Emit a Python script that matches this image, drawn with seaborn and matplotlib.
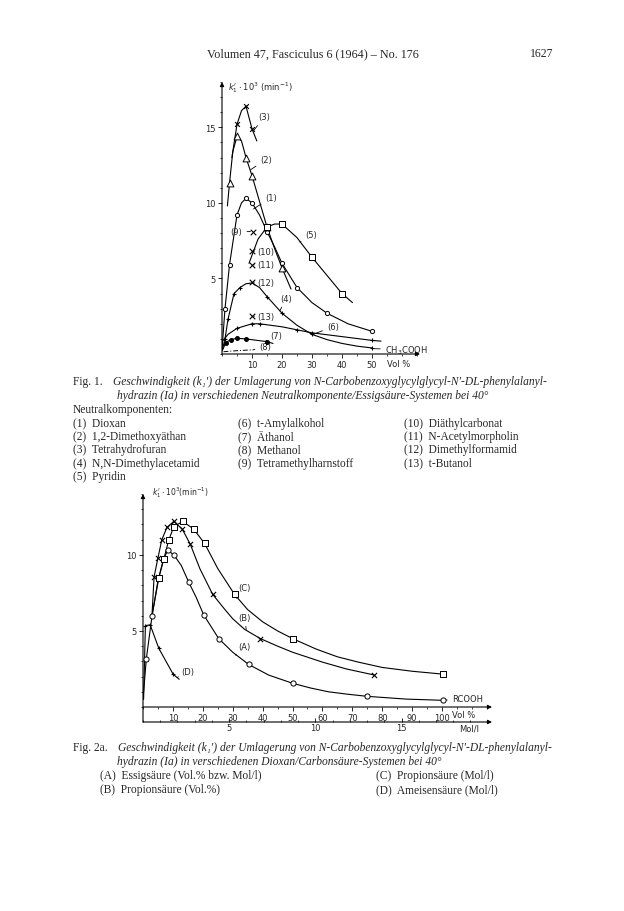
import matplotlib
matplotlib.use("Agg")
import matplotlib.pyplot as plt
import seaborn as sns
import pandas as pd
from matplotlib.ticker import MultipleLocator

# ---------------- Fig. 1 : k1'*10^3 vs Vol% CH3COOH ----------------
# measured points (with markers) and extra points read along the drawn curves
dio_x = [1, 2.5, 5, 8, 10, 15, 20, 25, 35, 50]
dio_y = [3.0, 5.9, 9.2, 10.3, 10.0, 8.1, 6.0, 4.4, 2.7, 1.5]
dio_ex = [0, 6.5, 12.5, 17.5, 30, 42, 46]
dio_ey = [0.3, 10.0, 9.2, 7.1, 3.4, 2.0, 1.75]

dme_x = [2.5, 5, 8, 10, 15, 20]
dme_y = [11.3, 14.4, 13.0, 11.8, 8.4, 5.7]
dme_ex = [1.8, 3.6, 6.5, 12.5, 17.5, 23]
dme_ey = [9.8, 13.4, 14.1, 10.1, 7.0, 4.3]

thf_x = [5, 8, 10]
thf_y = [15.2, 16.4, 14.9]
thf_ex = [3.3, 6.5, 11.6]
thf_ey = [13.0, 16.1, 14.1]

dma_x = [1, 2, 4, 6, 15, 20, 30, 50]
dma_y = [1.0, 2.3, 4.0, 4.4, 3.8, 2.7, 1.3, 0.4]
dma_ex = [0, 8, 10, 12.5, 25, 35, 40, 45]
dma_ey = [0.2, 4.65, 4.7, 4.4, 1.9, 0.95, 0.7, 0.52]

pyr_x = [15, 20, 30, 40]
pyr_y = [8.4, 8.6, 6.4, 4.0]
pyr_ex = [9, 12, 17.5, 25, 35, 43.5]
pyr_ey = [6.0, 7.6, 8.6, 7.7, 5.2, 3.4]

amyl_x = [5, 10, 12.5, 25, 30, 50]
amyl_y = [1.7, 2.0, 2.0, 1.6, 1.4, 0.9]
amyl_ex = [0.4, 2, 20, 40, 53]
amyl_ey = [0.9, 1.3, 1.8, 1.15, 0.85]

eth_x = [1.2, 2.9, 4.9, 7.9, 14.9]
eth_y = [0.75, 0.95, 1.04, 1.0, 0.82]
eth_ex = [0.3, 17]
eth_ey = [0.3, 0.7]

meoh_x = [0.5, 5, 10.5]
meoh_y = [0.15, 0.22, 0.28]

single_lab = ["(10)", "(11)", "(12)", "(13)"]
single_x = [10, 10, 10, 10]
single_y = [6.8, 5.9, 4.75, 2.5]
tmh_x = [10.2]
tmh_y = [8.1]

# ---------------- Fig. 2a : Dioxan / carboxylic acid ----------------
A_x = [1.1, 3, 6.9, 8.3, 10.3, 15.3, 20.3, 25.3, 35.3, 50, 75, 100.2]
A_y = [3.15, 5.95, 9.75, 10.3, 10.0, 8.2, 6.05, 4.5, 2.8, 1.56, 0.7, 0.44]
A_ex = [0, 5, 12.8, 17.8, 30, 42, 56, 62, 68, 88]
A_ey = [0.5, 8.3, 9.3, 7.2, 3.6, 2.1, 1.25, 1.0, 0.85, 0.52]

B_x = [3.7, 5, 6.3, 8, 10.3, 13.1, 15.8, 23.3, 39.2, 77.4]
B_y = [8.55, 9.8, 11.0, 11.8, 12.2, 11.7, 10.7, 7.4, 4.5, 2.1]
B_ex = [3, 19, 27, 30, 34, 45, 50, 60, 68]
B_ey = [6.0, 9.1, 6.5, 5.8, 5.1, 4.0, 3.6, 2.95, 2.5]

C_x = [5.3, 7, 8.6, 10.3, 13.3, 16.9, 20.6, 30.6, 50.3, 100.3]
C_y = [8.5, 9.75, 10.97, 11.85, 12.2, 11.7, 10.75, 7.4, 4.47, 2.16]
C_ex = [3, 25, 35, 40, 45, 58, 65, 72, 80, 90]
C_ey = [6.0, 9.1, 6.4, 5.6, 5.0, 3.8, 3.3, 2.95, 2.6, 2.35]

D_x = [0.8, 2.4, 5.3, 10.1]
D_y = [5.35, 5.4, 3.85, 2.15]
D_ex = [0.2, 12.1]
D_ey = [0.5, 1.82]

MOL_PER_VOL = 17.35 / 100.0   # pure acetic acid ~17.35 mol/l

# ---------------- page texts ----------------
header = "Volumen 47, Fasciculus 6 (1964) \u2013 No. 176"
page_no = "1627"
cap1_a = "Geschwindigkeit (k\u2081\u2032) der Umlagerung von N-Carbobenzoxyglycylglycyl-N\u2032-DL-phenylalanyl-"
cap1_b = "hydrazin (Ia) in verschiedenen Neutralkomponente/Essigs\u00e4ure-Systemen bei 40\u00b0"
cols1 = [
    ["(1)  Dioxan", "(2)  1,2-Dimethoxy\u00e4than", "(3)  Tetrahydrofuran",
     "(4)  N,N-Dimethylacetamid", "(5)  Pyridin"],
    ["(6)  t-Amylalkohol", "(7)  \u00c4thanol", "(8)  Methanol", "(9)  Tetramethylharnstoff"],
    ["(10)  Di\u00e4thylcarbonat", "(11)  N-Acetylmorpholin", "(12)  Dimethylformamid", "(13)  t-Butanol"],
]
cap2_a = "Geschwindigkeit (k\u2081\u2032) der Umlagerung von N-Carbobenzoxyglycylglycyl-N\u2032-DL-phenylalanyl-"
cap2_b = "hydrazin (Ia) in verschiedenen Dioxan/Carbons\u00e4ure-Systemen bei 40\u00b0"
cols2 = [
    ["(A)  Essigs\u00e4ure (Vol.% bzw. Mol/l)", "(B)  Propions\u00e4ure (Vol.%)"],
    ["(C)  Propions\u00e4ure (Mol/l)", "(D)  Ameisens\u00e4ure (Mol/l)"],
]

sns.set_style("ticks")
plt.rcParams["font.family"] = ["DejaVu Sans"]
plt.rcParams["axes.linewidth"] = 0.8

W, H = 624, 912
fig = plt.figure(figsize=(W / 100, H / 100), dpi=100)
SERIF = ["Liberation Serif", "DejaVu Serif"]


def curve(ax, px, py, ex, ey, **kw):
    df = pd.DataFrame({"x": list(px) + list(ex), "y": list(py) + list(ey)}).sort_values("x")
    sns.lineplot(data=df, x="x", y="y", color="k", lw=0.8, sort=True,
                 estimator=None, ax=ax, **kw)


def pts(ax, x, y, marker, size, filled=False):
    if marker in ("x", "+"):
        sns.scatterplot(x=x, y=y, marker=marker, s=size, color="k", linewidth=0.8,
                        ax=ax, zorder=4)
    else:
        sns.scatterplot(x=x, y=y, marker=marker, s=size,
                        facecolor="k" if filled else "white", edgecolor="k",
                        linewidth=0.7, ax=ax, zorder=4)


def put(x0, y, s, x1=None, **kw):
    t = fig.text(x0 / W, 1 - y / H, s, va="center", ha="left", family=SERIF, **kw)
    if x1 is not None:
        r = fig.canvas.get_renderer()
        w = t.get_window_extent(renderer=r).width
        t.set_fontsize(t.get_fontsize() * (x1 - x0) / w)
    return t


def arrow_axes(ax, p0, p1):
    ax.annotate("", xy=p1, xytext=p0, xycoords="axes fraction", textcoords="axes fraction",
                arrowprops=dict(arrowstyle="-|>", lw=0.8, color="k", mutation_scale=6,
                                shrinkA=0, shrinkB=0), annotation_clip=False)


def lab(ax, s, xy, xyt, ha="left", fs=6):
    ax.annotate(s, xy=xy, xytext=xyt, ha=ha, va="center", fontsize=fs,
                arrowprops=dict(arrowstyle="-", lw=0.6, color="k", shrinkA=1, shrinkB=0))


# ================= Fig. 1 axes =================
ax1 = fig.add_axes([222 / W, 1 - 355 / H, 198 / W, 272 / H])
ax1.set_xlim(0, 66)
ax1.set_ylim(0, 18)

curve(ax1, dio_x, dio_y, dio_ex, dio_ey)
curve(ax1, dme_x, dme_y, dme_ex, dme_ey)
curve(ax1, thf_x, thf_y, thf_ex, thf_ey)
curve(ax1, dma_x, dma_y, dma_ex, dma_ey)
curve(ax1, pyr_x, pyr_y, pyr_ex, pyr_ey)
curve(ax1, amyl_x, amyl_y, amyl_ex, amyl_ey)
curve(ax1, eth_x, eth_y, eth_ex, eth_ey)
sns.lineplot(x=meoh_x, y=meoh_y, color="k", lw=0.7, ax=ax1, linestyle=(0, (5, 2, 1, 2)))

pts(ax1, dio_x, dio_y, "o", 9)
pts(ax1, dme_x, dme_y, "^", 24)
pts(ax1, thf_x, thf_y, "x", 12)
pts(ax1, dma_x, dma_y, "+", 8)
pts(ax1, pyr_x, pyr_y, "s", 18)
pts(ax1, amyl_x, amyl_y, "+", 8)
pts(ax1, eth_x, eth_y, "o", 8, filled=True)
pts(ax1, tmh_x, tmh_y, "x", 16)
pts(ax1, single_x, single_y, "x", 16)

lab(ax1, "(3)", (10.6, 14.8), (12.2, 15.7))
lab(ax1, "(2)", (9.6, 12.2), (12.8, 12.9))
lab(ax1, "(1)", (10.5, 9.6), (14.5, 10.35))
lab(ax1, "(5)", (26, 7.4), (27.8, 7.9))
lab(ax1, "(4)", (19.3, 2.85), (19.4, 3.7))
lab(ax1, "(6)", (31, 1.35), (35, 1.8))
lab(ax1, "(7)", (14.5, 0.85), (16, 1.2))
lab(ax1, "(8)", (10.5, 0.28), (12.5, 0.5))
lab(ax1, "(9)", (9.5, tmh_y[0]), (6.8, tmh_y[0]), ha="right")
for s, xv, yv in zip(single_lab, single_x, single_y):
    lab(ax1, s, (xv + 0.5, yv), (11.9, yv))
lab(ax1, "CH$_3$COOH", (50.8, 0.35), (54.3, 0.3))

ax1.xaxis.set_minor_locator(MultipleLocator(5))
ax1.yaxis.set_minor_locator(MultipleLocator(1))
ax1.set_xticks([10, 20, 30, 40, 50])
ax1.set_yticks([5, 10, 15])
ax1.tick_params(labelsize=6, length=3, width=0.7, pad=1.5)
ax1.tick_params(which="minor", length=1.5, width=0.6)
ax1.set_xlabel("")
ax1.set_ylabel("")
for sp in ax1.spines.values():
    sp.set_visible(False)
arrow_axes(ax1, (0, 0), (1, 0))
arrow_axes(ax1, (0, 0), (0, 1))
ax1.text(0.03, 0.985, "$k_1^{\\prime}\\cdot10^3$ (min$^{-1}$)", transform=ax1.transAxes,
         fontsize=6, va="center", ha="left")
ax1.text(0.835, -0.035, "Vol %", transform=ax1.transAxes, fontsize=6, va="center", ha="left")

# ================= Fig. 2a axes =================
ax2 = fig.add_axes([143 / W, 1 - 708 / H, 349 / W, 213 / H])
ax2.set_xlim(0, 116.7)
ax2.set_ylim(0, 14)

curve(ax2, A_x, A_y, A_ex, A_ey)
curve(ax2, B_x, B_y, B_ex, B_ey)
curve(ax2, C_x, C_y, C_ex, C_ey)
curve(ax2, D_x, D_y, D_ex, D_ey)
pts(ax2, A_x, A_y, "o", 14)
pts(ax2, B_x, B_y, "x", 14)
pts(ax2, C_x, C_y, "s", 16)
pts(ax2, D_x, D_y, "+", 10)

lab(ax2, "(C)", (31.2, 7.15), (32.0, 7.85))
lab(ax2, "(B)", (34.5, 5.1), (32.0, 5.9))
lab(ax2, "(A)", (31.0, 3.4), (32.0, 3.95))
lab(ax2, "(D)", (11.5, 1.95), (12.9, 2.35))
lab(ax2, "RCOOH", (100.8, 0.45), (103.3, 0.55))

ax2.set_xticks(range(10, 101, 10))
ax2.xaxis.set_minor_locator(MultipleLocator(5))
ax2.set_yticks([5, 10])
ax2.yaxis.set_minor_locator(MultipleLocator(1))
ax2.tick_params(labelsize=6, length=3, width=0.7, pad=1.5)
ax2.tick_params(which="minor", length=1.5, width=0.6)
ax2.set_xlabel("")
ax2.set_ylabel("")
for sp in ax2.spines.values():
    sp.set_visible(False)
arrow_axes(ax2, (0, 0), (1, 0))
arrow_axes(ax2, (0, -0.07), (0, 1))

sec = ax2.secondary_xaxis(-15 / 213, functions=(lambda v: v * MOL_PER_VOL,
                                                 lambda m: m / MOL_PER_VOL))
sec.set_xticks([5, 10, 15])
sec.xaxis.set_minor_locator(MultipleLocator(1))
sec.tick_params(labelsize=6, length=3, width=0.7, pad=1, direction="in")
sec.tick_params(which="minor", length=1.5, width=0.6, direction="in")
sec.spines["bottom"].set_visible(False)
arrow_axes(ax2, (0, -15 / 213), (1, -15 / 213))

ax2.text(0.025, 1.01, "$k_1^{\\prime}\\cdot10^3$(min$^{-1}$)", transform=ax2.transAxes,
         fontsize=5.5, va="center", ha="left")
ax2.text(0.885, -0.035, "Vol %", transform=ax2.transAxes, fontsize=6, va="center", ha="left")
ax2.text(0.905, -0.1, "Mol/l", transform=ax2.transAxes, fontsize=6, va="center", ha="left")

# ================= page texts =================
put(207, 54, header, 420, fontsize=8)
put(530, 54, page_no, fontsize=8.5)

t = put(113, 382, cap1_a, 543, fontsize=7.6, style="italic")
fs = t.get_fontsize()
put(73, 382, "Fig. 1.", fontsize=fs)
put(117, 396, cap1_b, fontsize=fs, style="italic")
put(73, 410, "Neutralkomponenten:", fontsize=fs)
for cx, col in zip([73, 238, 404], cols1):
    for i, s in enumerate(col):
        put(cx, 424 + i * 13.2, s, fontsize=fs)

put(73, 748, "Fig. 2a.", fontsize=fs)
put(118, 748, cap2_a, fontsize=fs, style="italic")
put(117, 762, cap2_b, fontsize=fs, style="italic")
for cx, col in zip([100, 376], cols2):
    for i, s in enumerate(col):
        put(cx, 776 + i * 14, s, fontsize=fs)

fig.savefig("out.png", dpi=100)
